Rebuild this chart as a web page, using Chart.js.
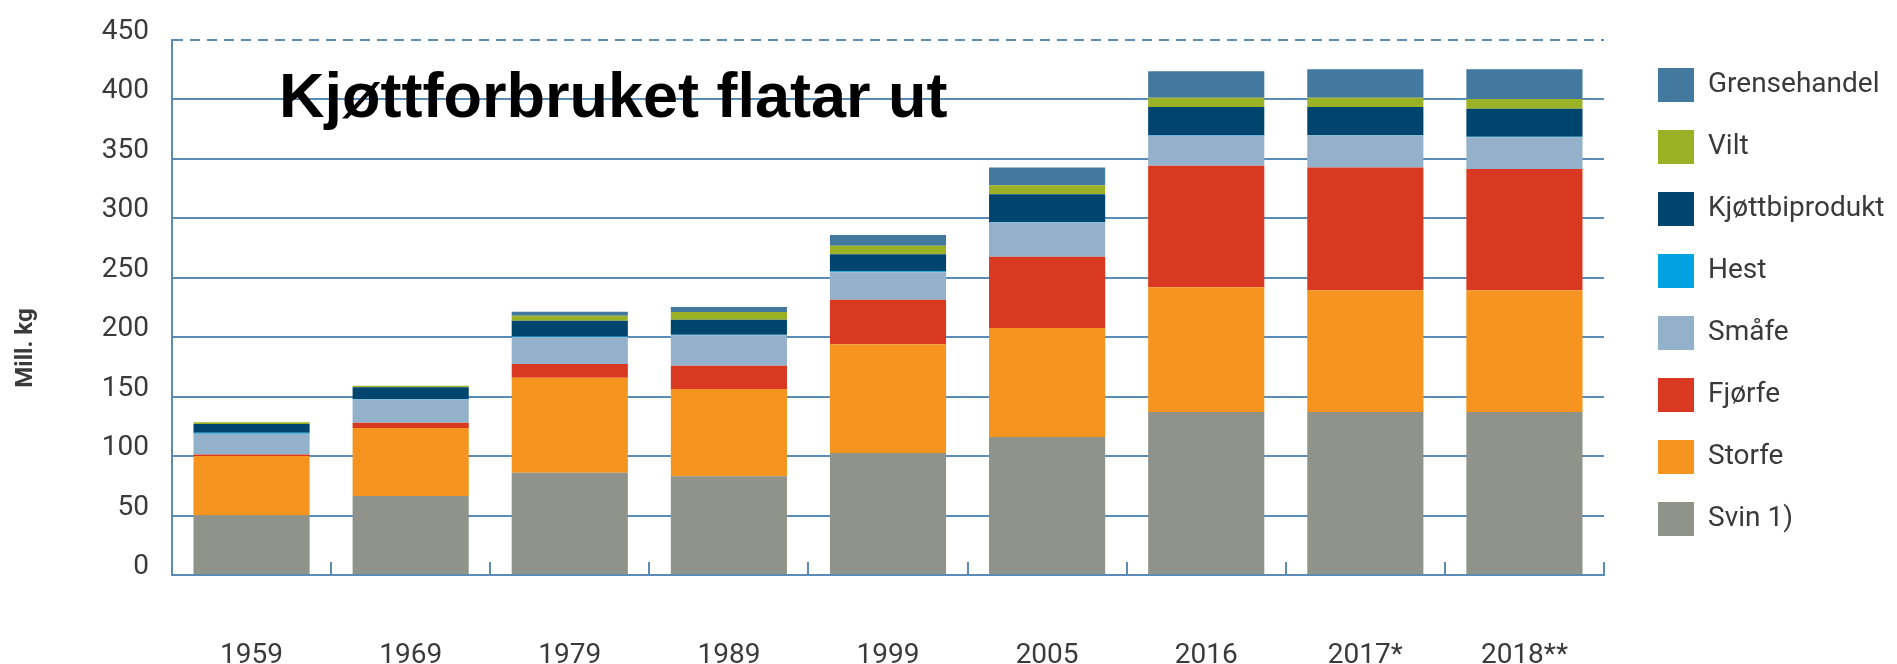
<!DOCTYPE html>
<html>
<head>
<meta charset="utf-8">
<script src="https://cdn.jsdelivr.net/npm/chart.js@4.4.1/dist/chart.umd.min.js"></script>
<style>
html,body{margin:0;padding:0;background:#fff;}
canvas{display:block;}
</style>
</head>
<body>
<canvas id="c" width="1897" height="664"></canvas>
<script>
// ---- data ----
const categories = ['1959', '1969', '1979', '1989', '1999', '2005', '2016', '2017*', '2018**'];
const svin           = [50,   66.5, 86,   83,   102.5, 116,  137,  137,   137];
const storfe         = [50,   57,   79.8, 73.4, 91.6,  91.6, 105,  102.5, 102.5];
const fjorfe         = [1.3,  4.5,  11.7, 19.5, 37.3,  59.9, 102,  103.2, 101.8];
const smafe          = [17.4, 19.5, 22.6, 25.7, 23.2,  28.8, 25.4, 26.8,  26.8];
const hest           = [0.8,  0.5,  0.4,  0.4,  0.8,   0.4,  0.3,  0.3,   0.3];
const kjottbiprodukt = [7.5,  9.8,  13.3, 12.7, 14.2,  23.5, 23.7, 23.7,  23.7];
const vilt           = [1.5,  1.4,  4.2,  6.4,  7.3,   7.6,  7.8,  7.8,   8.2];
const grensehandel   = [0,    0,    3.3,  4.2,  8.9,   14.8, 22.3, 24,    25];
const yTickValues = [0, 50, 100, 150, 200, 250, 300, 350, 400, 450];
const chartTitle = 'Kjøttforbruket flatar ut';
const yAxisTitle = 'Mill. kg';

const seriesNames  = ['Svin 1)', 'Storfe', 'Fjørfe', 'Småfe', 'Hest', 'Kjøttbiprodukt', 'Vilt', 'Grensehandel'];
const seriesData   = [svin, storfe, fjorfe, smafe, hest, kjottbiprodukt, vilt, grensehandel];
const seriesColors = ['#8f9389', '#f5941e', '#d93920', '#94b1cb', '#00a2e1', '#00456e', '#9cb226', '#44799f'];

const gridColor = '#5b8cb6';
const textColor = '#3a3a3a';

const datasets = seriesNames.map((name, i) => ({
  label: name,
  data: seriesData[i],
  backgroundColor: seriesColors[i],
  borderWidth: 0,
  stack: 's'
}));

const textPlugin = {
  id: 'extraTexts',
  afterInit(chart) {
    const lg = chart.legend;
    if (lg) {
      const origFit = lg.fit.bind(lg);
      lg.fit = function () { origFit(); this.width = 267; };
    }
  },
  afterLayout(chart) {
    const lg = chart.legend;
    if (lg) { lg.top += 3; lg.bottom += 3; }
  },
  afterDraw(chart) {
    const ctx = chart.ctx;
    ctx.save();
    ctx.fillStyle = '#000';
    ctx.font = 'bold 63px "Liberation Sans", Arial, sans-serif';
    ctx.textAlign = 'left';
    ctx.textBaseline = 'alphabetic';
    ctx.fillText(chartTitle, 279, 117);
    ctx.translate(26, 348);
    ctx.rotate(-Math.PI / 2);
    ctx.font = 'bold 24px Roboto, sans-serif';
    ctx.fillStyle = textColor;
    ctx.textAlign = 'center';
    ctx.textBaseline = 'middle';
    ctx.fillText(yAxisTitle, 0, 0);
    ctx.restore();
  }
};

new Chart(document.getElementById('c'), {
  type: 'bar',
  data: { labels: categories, datasets },
  plugins: [textPlugin],
  options: {
    responsive: false,
    animation: false,
    layout: { padding: { top: 37, right: 0, bottom: 0, left: 0 } },
    datasets: { bar: { categoryPercentage: 1, barPercentage: 0.73 } },
    plugins: {
      title: { display: false },
      tooltip: { enabled: false },
      legend: {
        position: 'right',
        align: 'start',
        reverse: true,
        labels: {
          boxWidth: 36,
          boxHeight: 34,
          padding: 28,
          color: textColor,
          font: { family: 'Roboto, sans-serif', size: 28 }
        }
      }
    },
    scales: {
      x: {
        stacked: true,
        offset: true,
        grid: {
          display: true,
          drawOnChartArea: false,
          drawTicks: true,
          tickLength: -13,
          offset: true,
          color: gridColor,
          lineWidth: 2
        },
        border: { display: true, color: gridColor, width: 2 },
        ticks: {
          padding: 77,
          color: textColor,
          font: { family: 'Roboto, sans-serif', size: 28 },
          maxRotation: 0,
          autoSkip: false
        },
        afterFit(scale) { scale.height = 89; }
      },
      y: {
        stacked: true,
        min: yTickValues[0],
        max: yTickValues[yTickValues.length - 1],
        afterBuildTicks(scale) { scale.ticks = yTickValues.map(v => ({ value: v })); },
        grid: {
          color: gridColor,
          lineWidth: 2,
          drawTicks: false
        },
        border: {
          display: true,
          color: gridColor,
          width: 2,
          dash: (ctx) => (ctx.tick && ctx.tick.value === 450) ? [10, 7] : []
        },
        ticks: {
          padding: 23,
          labelOffset: -8,
          color: textColor,
          font: { family: 'Roboto, sans-serif', size: 28 }
        },
        afterFit(scale) { scale.width = 172; }
      },
      yR: {
        position: 'right',
        display: true,
        min: 0,
        max: 450,
        grid: { display: false, drawTicks: false },
        border: { display: false },
        ticks: { display: false },
        afterFit(scale) { scale.width = 26; }
      }
    }
  }
});
</script>
</body>
</html>
